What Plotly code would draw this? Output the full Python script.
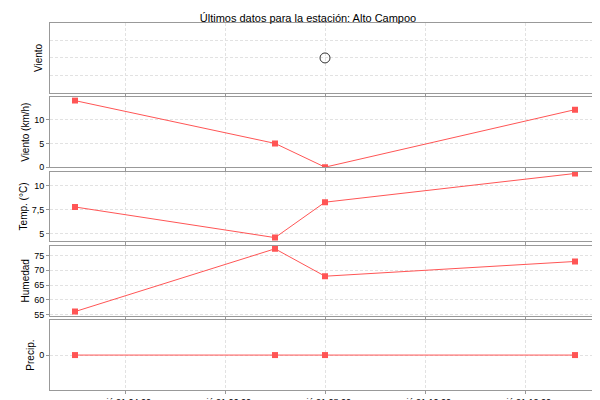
import plotly.graph_objects as go
from plotly.subplots import make_subplots

times = ["2024-02-21 03:00", "2024-02-21 07:00", "2024-02-21 08:00", "2024-02-21 13:00"]
dir_times = ["2024-02-21 08:00"]
dir_vals = [180]
viento = [14, 5, 0, 12.1]
temp = [7.8, 4.6, 8.3, 11.3]
humedad = [56, 77.3, 68, 73]
precip = [0, 0, 0, 0]
tickvals = ["2024-02-21 04:00", "2024-02-21 06:00", "2024-02-21 08:00", "2024-02-21 10:00", "2024-02-21 12:00"]
ticktext = ["mié 21 04:00", "mié 21 06:00", "mié 21 08:00", "mié 21 10:00", "mié 21 12:00"]

fig = make_subplots(rows=5, cols=1, shared_xaxes=True, vertical_spacing=0.012)
red = "#ff5555"
fig.add_trace(go.Scatter(x=dir_times, y=dir_vals, mode="markers",
    marker=dict(symbol="circle-open", size=10, color="#333333", line=dict(width=1))), 1, 1)
for i, ys in enumerate([viento, temp, humedad, precip]):
    fig.add_trace(go.Scatter(x=times, y=ys, mode="lines+markers",
        line=dict(color=red, width=1), marker=dict(symbol="square", size=6, color=red)), i + 2, 1)

labels = ["Viento", "Viento (km/h)", "Temp. (°C)", "Humedad", "Precip."]
ranges = [[0, 360], [0, 14.7], [4.2, 11.5], [54.6, 78.3], [-1, 1]]
ytv = [[90, 180, 270], [0, 5, 10], [5, 7.5, 10], [55, 60, 65, 70, 75], [0]]
ytt = [["", "", ""], ["0", "5", "10"], ["5", "7,5", "10"], ["55", "60", "65", "70", "75"], ["0"]]
for i in range(5):
    fig.update_yaxes(row=i + 1, col=1, range=ranges[i], title=dict(text=labels[i], font=dict(size=10), standoff=2),
        tickvals=ytv[i], ticktext=ytt[i], showgrid=True, gridcolor="#e2e2e2", griddash="3px,2px",
        zeroline=False, showline=True, linecolor="#999999", mirror=True, ticks="outside" if i else "", ticklen=3,
        tickcolor="#999999", tickfont=dict(size=9), automargin=False)
fig.update_xaxes(range=["2024-02-21 02:30", "2024-02-21 13:30"], showgrid=True, gridcolor="#e2e2e2",
    griddash="3px,2px", zeroline=False, showline=True, linecolor="#999999", mirror=True,
    tickvals=tickvals, ticktext=ticktext, ticks="outside", ticklen=3, tickcolor="#999999",
    tickfont=dict(size=9), automargin=False)
fig.update_layout(width=600, height=400, margin=dict(l=42, r=8, t=15, b=18), showlegend=False,
    plot_bgcolor="white", paper_bgcolor="white", font=dict(family="Liberation Sans, Arial", color="#000000"),
    title=dict(text="Últimos datos para la estación: Alto Campoo", x=0.5, y=0.985, font=dict(size=11)))
fig.write_html("out.html")
